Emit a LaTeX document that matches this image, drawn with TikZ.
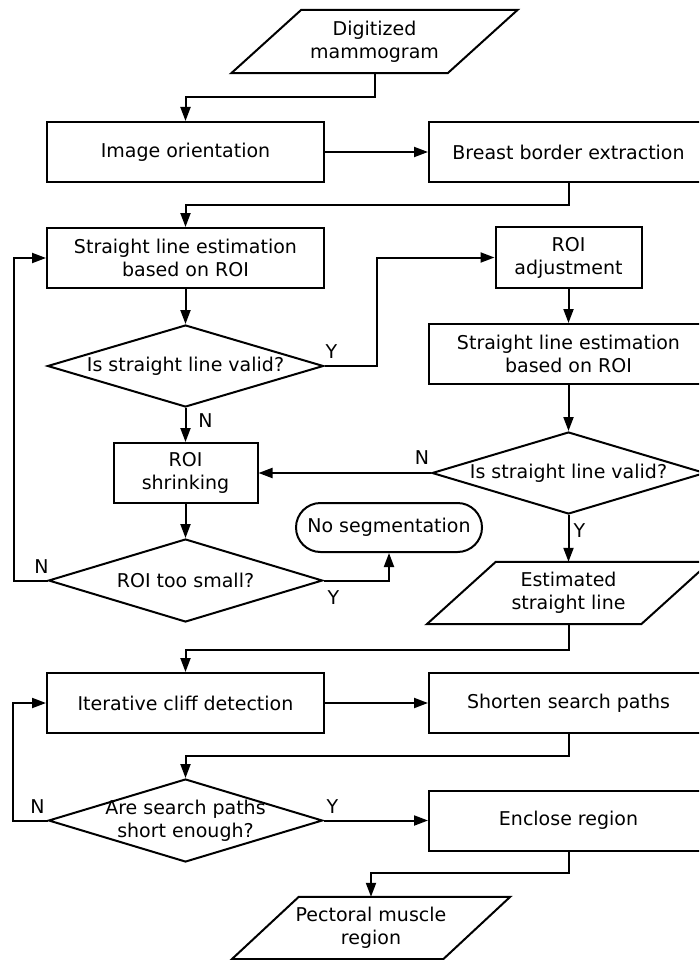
\documentclass[tikz,border=0pt]{standalone}
\usepackage{fontspec}
\setmainfont{DejaVu Sans}
\usetikzlibrary{shapes.geometric,shapes.misc,arrows.meta,calc}
\newcommand\drawpara[2]{\draw[ln] ([xshift=#2]#1.north west) -- ([xshift=#2]#1.north east) -- ([xshift=-#2]#1.south east) -- ([xshift=-#2]#1.south west) -- cycle;}
\begin{document}
\begin{tikzpicture}[x=1pt,y=-1pt,
  ln/.style={line width=2pt, line join=miter},
  box/.style={draw, ln, rectangle, inner sep=0pt, align=center, minimum height=60pt},
  dia/.style={draw, ln, diamond, inner sep=0pt, minimum width=#1, minimum height=82pt},
  para/.style={inner sep=0pt, align=center, minimum width=#1, minimum height=62pt},
  term/.style={draw, ln, rounded rectangle, inner sep=0pt, minimum width=186pt, minimum height=49pt},
  arr/.style={ln, -{Triangle[length=14pt,width=10pt]}},
  lab/.style={inner sep=0pt},
  every node/.append style={font=\fontsize{19}{23}\selectfont}
]
\useasboundingbox (0,0) rectangle (699,960);
\clip (0,0) rectangle (699,960);
\fill[white] (0,0) rectangle (699,960);

% nodes
\node[para=216pt, minimum height=63pt] (dig) at (374.5,41.5) {Digitized\\mammogram};
\drawpara{dig}{35pt}
\node[box, minimum width=277pt] (io) at (185.5,152) {Image orientation};
\node[box, minimum width=279pt] (bbe) at (568.5,152) {Breast border extraction};
\node[box, minimum width=277pt] (sle1) at (185.5,258) {Straight line estimation\\based on ROI};
\node[box, minimum width=146pt, minimum height=61pt] (adj) at (568.5,257.5) {ROI\\adjustment};
\node[box, minimum width=279pt] (sle2) at (568.5,354) {Straight line estimation\\based on ROI};
\node[dia=276pt, label={center:Is straight line valid?}] (d1) at (185.5,366) {};
\node[box, minimum width=144pt] (shr) at (185.5,473) {ROI\\shrinking};
\node[dia=273pt, label={center:Is straight line valid?}] (d2) at (568.5,473) {};
\node[dia=274pt, minimum height=83pt, label={center:ROI too small?}] (d3) at (185.5,580.5) {};
\node[term] (ns) at (389,527.5) {No segmentation};
\node[para=214pt] (est) at (568.5,593) {Estimated\\straight line};
\drawpara{est}{34.5pt}
\node[box, minimum width=277pt] (icd) at (185.5,703) {Iterative cliff detection};
\node[box, minimum width=279pt] (ssp) at (568.5,703) {Shorten search paths};
\node[dia=274pt, minimum height=83pt, label={[align=center]center:Are search paths\\short enough?}] (d4) at (185.5,820.5) {};
\node[box, minimum width=279pt] (enc) at (568.5,820.5) {Enclose region};
\node[para=211pt] (pec) at (371,928) {Pectoral muscle\\region};
\drawpara{pec}{33.5pt}

% bend points
\coordinate (j1) at (185.5,97);
\coordinate (j2) at (185.5,205);
\coordinate (j3) at (377,300);
\coordinate (j4) at (14,420);
\coordinate (j5) at (185.5,650);
\coordinate (j6) at (185.5,756);
\coordinate (j7) at (13,760);
\coordinate (j8) at (371,873);

% connectors
\draw[arr] (dig.south) |- (j1) -- (io.north);
\draw[arr] (io.east) -- (bbe.west);
\draw[arr] (bbe.south) |- (j2) -- (sle1.north);
\draw[arr] (sle1.south) -- (d1.north);
\draw[arr] (d1.east) -| (j3) |- (adj.west);
\draw[arr] (adj.south) -- (sle2.north);
\draw[arr] (sle2.south) -- (d2.north);
\draw[arr] (d1.south) -- (shr.north);
\draw[arr] (d2.west) -- (shr.east);
\draw[arr] (shr.south) -- (d3.north);
\draw[arr] (d3.east) -| (ns.south);
\draw[arr] (d3.west) -| (j4) |- (sle1.west);
\draw[arr] (d2.south) -- (est.north);
\draw[arr] (est.south) |- (j5) -- (icd.north);
\draw[arr] (icd.east) -- (ssp.west);
\draw[arr] (ssp.south) |- (j6) -- (d4.north);
\draw[arr] (d4.west) -| (j7) |- (icd.west);
\draw[arr] (d4.east) -- (enc.west);
\draw[arr] (enc.south) |- (j8) -- (pec.north);

% labels
\node[lab] at ($(d1.east)+(7,-14)$) {Y};
\node[lab] at ($(d1.south)+(20,13)$) {N};
\node[lab] at ($(d2.west)+(-9,-15)$) {N};
\node[lab] at ($(d2.south)+(11,16)$) {Y};
\node[lab] at ($(d3.west)+(-6,-14)$) {N};
\node[lab] at ($(d3.east)+(10,17)$) {Y};
\node[lab] at ($(d4.west)+(-10,-14)$) {N};
\node[lab] at ($(d4.east)+(9,-14)$) {Y};
\end{tikzpicture}
\end{document}
